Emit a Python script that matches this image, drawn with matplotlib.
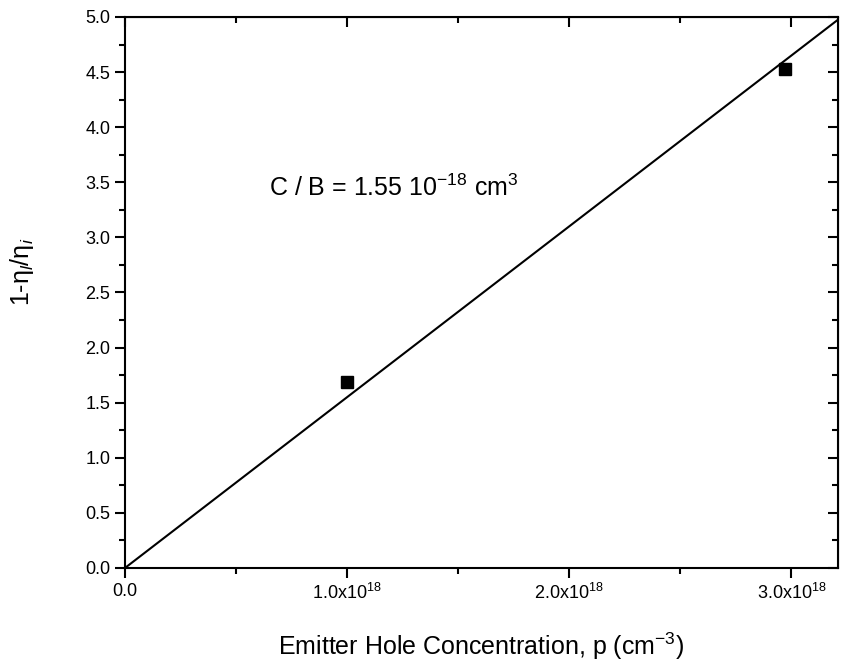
import numpy as np
import matplotlib.pyplot as plt
from matplotlib.ticker import MultipleLocator, FuncFormatter

plt.rcParams['font.family'] = ['Liberation Sans', 'DejaVu Sans']
plt.rcParams['mathtext.fontset'] = 'custom'
plt.rcParams['mathtext.rm'] = 'Liberation Sans'
plt.rcParams['mathtext.it'] = 'Liberation Sans:italic'

# measured points
hole_conc = [1.0e18, 2.97e18]
one_minus_eta = [1.69, 4.53]

# fit: 1 - eta_l/eta_i = (C/B) * p
c_over_b = 1.55e-18
fit_x = np.array([0.0, 3.21e18])
fit_y = c_over_b * fit_x


def xfmt(v, pos):
    if v == 0:
        return '0.0'
    return r'%.1fx10$^{18}$' % (v / 1e18)


fig = plt.figure(figsize=(8.41, 6.69), dpi=100)
ax = fig.add_axes([0.1486, 0.151, 0.8478, 0.8236])

ax.plot(fit_x, fit_y, color='black', lw=1.5)
ax.plot(hole_conc, one_minus_eta, 's', color='black', ms=9)

ax.set_xlim(0, 3.21e18)
ax.set_ylim(0, 5.0)

ax.xaxis.set_major_locator(MultipleLocator(1e18))
ax.xaxis.set_minor_locator(MultipleLocator(0.5e18))
ax.xaxis.set_major_formatter(FuncFormatter(xfmt))
ax.yaxis.set_major_locator(MultipleLocator(0.5))
ax.yaxis.set_minor_locator(MultipleLocator(0.25))
ax.yaxis.set_major_formatter(FuncFormatter(lambda v, p: '%.1f' % v))

ax.tick_params(which='both', direction='out', width=1.5, labelsize=13)
ax.tick_params(which='major', length=7)
ax.tick_params(which='minor', length=4)

# top and right ticks point inward
sec_x = ax.secondary_xaxis('top')
sec_x.xaxis.set_major_locator(MultipleLocator(1e18))
sec_x.xaxis.set_minor_locator(MultipleLocator(0.5e18))
sec_x.tick_params(which='both', direction='in', labeltop=False, width=1.5)
sec_x.tick_params(which='major', length=7)
sec_x.tick_params(which='minor', length=4)
sec_y = ax.secondary_yaxis('right')
sec_y.yaxis.set_major_locator(MultipleLocator(0.5))
sec_y.yaxis.set_minor_locator(MultipleLocator(0.25))
sec_y.tick_params(which='both', direction='in', labelright=False, width=1.5)
sec_y.tick_params(which='major', length=7)
sec_y.tick_params(which='minor', length=4)

for s in ax.spines.values():
    s.set_linewidth(1.5)

ax.set_xlabel(r'Emitter Hole Concentration, p (cm$^{-3}$)', fontsize=18, labelpad=20)
ax.set_ylabel(r'1-η$_l$/η$_i$', fontsize=18)
ax.yaxis.set_label_coords(-0.125, 0.537)

ax.text(0.65e18, 3.38, r'C / B = 1.55 10$^{-18}$ cm$^{3}$', fontsize=18)

fig.savefig('out.png', dpi=100)
